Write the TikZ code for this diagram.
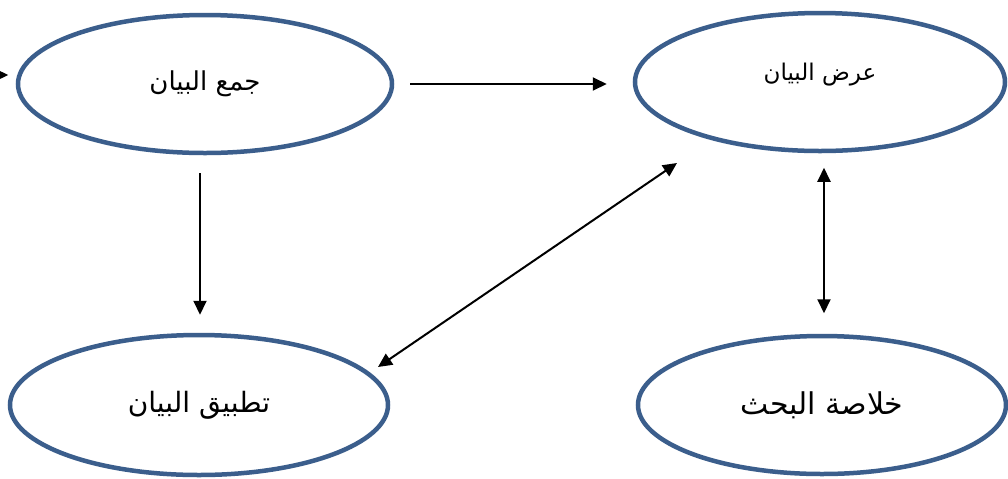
\documentclass[tikz,border=0pt]{standalone}
\usepackage{fontspec}
\newfontfamily\arabicfont[Script=Arabic]{DejaVu Sans}
\TeXXeTstate=1
\usepackage{xcolor}
\usepackage{tikz}
\usetikzlibrary{arrows.meta,shapes.geometric}
\definecolor{stageblue}{HTML}{3B5E8C}
\tikzset{
  stage/.style={ellipse, draw=stageblue, line width=2.25pt, fill=white,
    minimum width=187pt, minimum height=69pt, inner sep=0pt,
    font=\arabicfont\fontsize{13}{15}\selectfont},
  flow/.style={-{Triangle[length=7pt,width=6.5pt]}, line width=1pt, black},
  twoway/.style={{Triangle[length=7pt,width=6.5pt]}-{Triangle[length=7pt,width=6.5pt]}, line width=1pt, black}
}
\begin{document}
\begin{tikzpicture}[x=0.5pt, y=-0.5pt]
%%%%% Frame %%%%%
\clip (0,0) rectangle (1008,478);
\fill[white] (0,0) rectangle (1008,478);
%%%%% Stages %%%%%
\node[stage] (jam) at (205,84) {\beginR جمع البيان\endR};
\node[stage, minimum width=185pt, font=\arabicfont\fontsize{11.5}{13}\selectfont] (ard) at (820,82) {\raisebox{10pt}{\beginR عرض البيان\endR}};
\node[stage, minimum width=189pt, minimum height=70pt, font=\arabicfont\fontsize{14}{16}\selectfont] (tatbiq) at (199,405) {\beginR تطبيق البيان\endR};
\node[stage, minimum width=184pt, font=\arabicfont\fontsize{15}{17}\selectfont] (khulasa) at (822,405) {\beginR خلاصة البحث\endR};
%%%%% Arrows %%%%%
\coordinate (entry) at (-40,75);
\draw[flow, shorten >=3.75pt] (entry) -- (entry -| jam.west);
\draw[flow, shorten <=8pt, shorten >=13pt] (jam.east) -- (jam.east -| ard.west);
\draw[flow, shorten <=9pt, shorten >=9pt] ([xshift=-2.5pt]jam.south) -- ([xshift=-2.5pt]jam.south |- tatbiq.north);
\draw[twoway] ([shift={(179,-38)}]tatbiq.center) -- ([shift={(-143,81)}]ard.center);
\draw[twoway, shorten <=7.25pt, shorten >=10.25pt] ([xshift=2pt]ard.south) -- ([xshift=2pt]ard.south |- khulasa.north);
\end{tikzpicture}
\end{document}
